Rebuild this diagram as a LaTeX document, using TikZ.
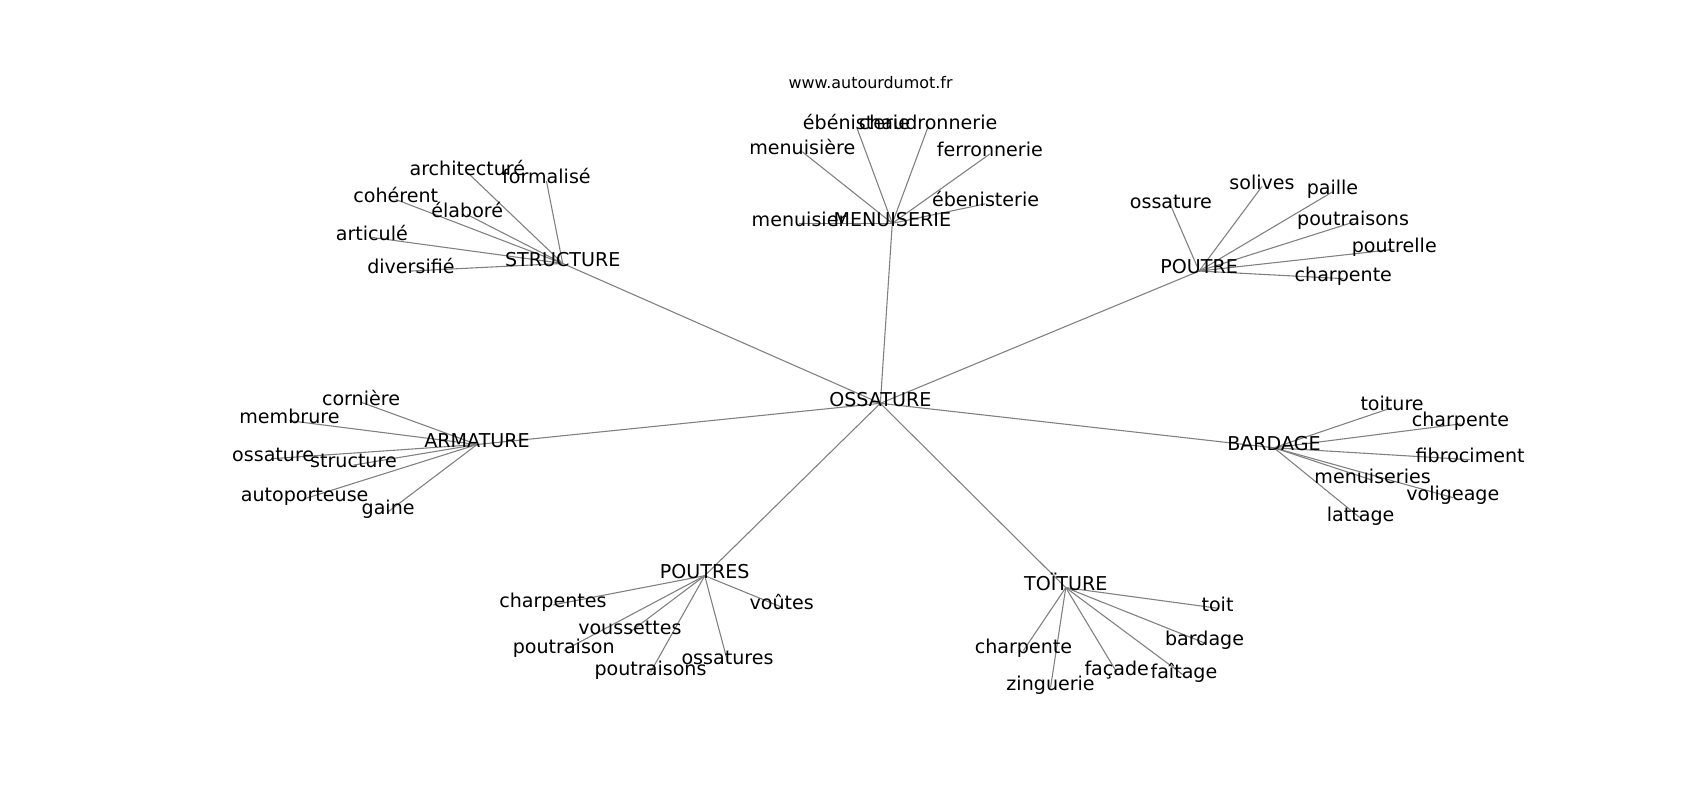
\documentclass[tikz,border=0pt]{standalone}
\usepackage{fontspec}
\setmainfont{DejaVu Sans}
\usetikzlibrary{backgrounds}
\definecolor{edgegray}{HTML}{808080}
\begin{document}
\begin{tikzpicture}[x=1pt,y=-1pt,
  word/.style={font=\fontsize{17.6}{20}\selectfont, inner sep=0pt, text=black, text height=0.76em, text depth=0.24em, yshift=-3pt},
  sitelbl/.style={font=\fontsize{14.7}{17}\selectfont, inner sep=0pt, text=black},
  link/.style={draw=edgegray, line width=1pt}]
\useasboundingbox (0,0) rectangle (1568,738);
\node[sitelbl] (site) at (803,76) {www.autourdumot.fr};
% hubs
\node[word] (oss) at (812,369) {OSSATURE};
\node[word] (men) at (823,203) {MENUISERIE};
\node[word] (str) at (519,240) {STRUCTURE};
\node[word] (pou) at (1106,247) {POUTRE};
\node[word] (arm) at (440,407) {ARMATURE};
\node[word] (bar) at (1175,410) {BARDAGE};
\node[word] (pos) at (650,528) {POUTRES};
\node[word] (toi) at (983,539) {TOÏTURE};
% menuiserie
\node[word] (m1) at (737,203) {menuisier};
\node[word] (m2) at (790,114) {ébénisterie};
\node[word] (m3) at (856,114) {chaudronnerie};
\node[word] (m4) at (740,137) {menuisière};
\node[word] (m5) at (913,139) {ferronnerie};
\node[word] (m6) at (909,185) {ébenisterie};
% structure
\node[word] (s1) at (431,156) {architecturé};
\node[word] (s2) at (504,164) {formalisé};
\node[word] (s3) at (365,181) {cohérent};
\node[word] (s4) at (431,195) {élaboré};
\node[word] (s5) at (343,216) {articulé};
\node[word] (s6) at (379,247) {diversifié};
% poutre
\node[word] (p1) at (1080,187) {ossature};
\node[word] (p2) at (1164,169) {solives};
\node[word] (p3) at (1229,174) {paille};
\node[word] (p4) at (1248,202) {poutraisons};
\node[word] (p5) at (1286,227) {poutrelle};
\node[word] (p6) at (1239,254) {charpente};
% armature
\node[word] (a1) at (333,368) {cornière};
\node[word] (a2) at (267,385) {membrure};
\node[word] (a3) at (252,420) {ossature};
\node[word] (a4) at (326,426) {structure};
\node[word] (a5) at (281,457) {autoporteuse};
\node[word] (a6) at (358,469) {gaine};
% bardage
\node[word] (b1) at (1284,373) {toiture};
\node[word] (b2) at (1347,388) {charpente};
\node[word] (b3) at (1356,421) {fibrociment};
\node[word] (b4) at (1266,440) {menuiseries};
\node[word] (b5) at (1340,456) {voligeage};
\node[word] (b6) at (1255,475) {lattage};
% poutres
\node[word] (q1) at (510,555) {charpentes};
\node[word] (q2) at (721,557) {voûtes};
\node[word] (q3) at (581,580) {voussettes};
\node[word] (q4) at (520,597) {poutraison};
\node[word] (q5) at (600,617) {poutraisons};
\node[word] (q6) at (671,607) {ossatures};
% toiture
\node[word] (t1) at (1123,558) {toit};
\node[word] (t2) at (1111,590) {bardage};
\node[word] (t3) at (944,597) {charpente};
\node[word] (t4) at (1030,617) {façade};
\node[word] (t5) at (1092,620) {faîtage};
\node[word] (t6) at (969,631) {zinguerie};
\begin{scope}[on background layer]
\foreach \h in {men,str,pou,arm,bar,pos,toi}
  \draw[link] (oss.center) -- (\h.center);
\foreach \l in {m1,m2,m3,m4,m5,m6}
  \draw[link] (men.center) -- (\l.center);
\foreach \l in {s1,s2,s3,s4,s5,s6}
  \draw[link] (str.center) -- (\l.center);
\foreach \l in {p1,p2,p3,p4,p5,p6}
  \draw[link] (pou.center) -- (\l.center);
\foreach \l in {a1,a2,a3,a4,a5,a6}
  \draw[link] (arm.center) -- (\l.center);
\foreach \l in {b1,b2,b3,b4,b5,b6}
  \draw[link] (bar.center) -- (\l.center);
\foreach \l in {q1,q2,q3,q4,q5,q6}
  \draw[link] (pos.center) -- (\l.center);
\foreach \l in {t1,t2,t3,t4,t5,t6}
  \draw[link] (toi.center) -- (\l.center);
\end{scope}
\end{tikzpicture}
\end{document}
